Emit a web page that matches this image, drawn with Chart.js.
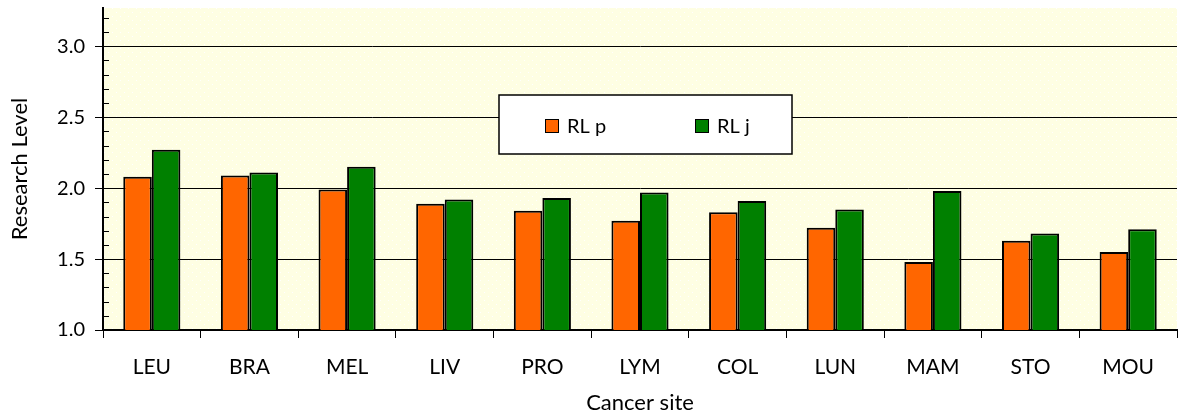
<!DOCTYPE html>
<html>
<head>
<meta charset="utf-8">
<script src="https://cdn.jsdelivr.net/npm/chart.js@4"></script>
<style>
  html, body { margin: 0; padding: 0; background: #fff; }
  #wrap { width: 1178px; height: 419px; }
</style>
</head>
<body>
<div id="wrap"><canvas id="rlChart" width="1178" height="419"></canvas></div>
<script>
// data
const sites = ["LEU", "BRA", "MEL", "LIV", "PRO", "LYM", "COL", "LUN", "MAM", "STO", "MOU"];
const rlP = [2.08, 2.09, 1.99, 1.89, 1.84, 1.77, 1.83, 1.72, 1.48, 1.63, 1.55];
const rlJ = [2.27, 2.11, 2.15, 1.92, 1.93, 1.97, 1.91, 1.85, 1.98, 1.68, 1.71];
const seriesNames = ["RL p", "RL j"];
const yTicks = [1.0, 1.5, 2.0, 2.5, 3.0];

const FONT = "Lato, 'Open Sans', sans-serif";

// dotted pale yellow fill like the original plot area
function makePattern(ctx) {
    const c = document.createElement("canvas");
    c.width = 8; c.height = 8;
    const p = c.getContext("2d");
    p.fillStyle = "#fefee3";
    p.fillRect(0, 0, 8, 8);
    p.fillStyle = "#ffffff";
    p.fillRect(0, 0, 1, 1);
    p.fillRect(4, 4, 1, 1);
    return ctx.createPattern(c, "repeat");
}

const plotBg = {
    id: "plotBg",
    beforeDraw(chart) {
        const { ctx, chartArea: a } = chart;
        ctx.save();
        ctx.fillStyle = makePattern(ctx);
        ctx.fillRect(a.left, a.top, a.right - a.left, a.bottom - a.top);
        ctx.restore();
    },
};

// small minor ticks on the inner side of the value axis
const minorTicks = {
    id: "minorTicks",
    afterDraw(chart) {
        const y = chart.scales.y;
        const ctx = chart.ctx;
        ctx.save();
        ctx.strokeStyle = "#000";
        ctx.lineWidth = 1;
        for (let i = 11; i <= 32; i++) {
            if (i % 5 === 0) continue;
            const py = Math.round(y.getPixelForValue(i / 10)) + 0.5;
            ctx.beginPath();
            ctx.moveTo(y.right, py);
            ctx.lineTo(y.right + 6, py);
            ctx.stroke();
        }
        ctx.restore();
    },
};

// boxed legend floating inside the plot
const boxLegend = {
    id: "boxLegend",
    afterDraw(chart) {
        const ctx = chart.ctx;
        const bx = 499, by = 95, bw = 293, bh = 59;
        ctx.save();
        ctx.fillStyle = "#fff";
        ctx.fillRect(bx, by, bw, bh);
        ctx.strokeStyle = "#000";
        ctx.lineWidth = 1.5;
        ctx.strokeRect(bx, by, bw, bh);
        ctx.font = "20px " + FONT;
        ctx.textBaseline = "middle";
        const xs = [545, 695];
        chart.data.datasets.forEach((ds, i) => {
            ctx.fillStyle = ds.backgroundColor;
            ctx.fillRect(xs[i], 119, 13, 13);
            ctx.lineWidth = 1;
            ctx.strokeRect(xs[i] + 0.5, 119.5, 13, 13);
            ctx.fillStyle = "#000";
            ctx.fillText(ds.label, xs[i] + 22, 127);
        });
        ctx.restore();
    },
};

new Chart(document.getElementById("rlChart"), {
    type: "bar",
    data: {
        labels: sites,
        datasets: [
            { label: seriesNames[0], data: rlP, backgroundColor: "#ff6600", borderColor: "#000", borderWidth: 2 },
            { label: seriesNames[1], data: rlJ, backgroundColor: "#008000", borderColor: "#000", borderWidth: 2 },
        ],
    },
    options: {
        responsive: false,
        animation: false,
        layout: { padding: { top: 8, right: 1, left: 0, bottom: 0 } },
        datasets: { bar: { categoryPercentage: 0.585, barPercentage: 1 } },
        plugins: {
            legend: { display: false },
            tooltip: { enabled: false },
        },
        scales: {
            x: {
                grid: { offset: true, drawOnChartArea: false, color: "#000", tickLength: 8, lineWidth: 1 },
                border: { color: "#000", width: 2 },
                ticks: { color: "#000", font: { family: FONT, size: 21 }, padding: 17 },
                title: { display: true, text: "Cancer site", color: "#000", font: { family: FONT, size: 22 }, padding: { top: 0, bottom: 3 } },
                afterFit: s => { s.height = 89; s.paddingLeft = 0; s.paddingRight = 0; },
            },
            y: {
                min: 1.0,
                max: 3.27,
                afterBuildTicks: s => { s.ticks = yTicks.map(v => ({ value: v })); },
                grid: { color: "#000", lineWidth: 1, tickLength: 8 },
                border: { color: "#000", width: 2 },
                ticks: { color: "#000", font: { family: FONT, size: 20 }, padding: 10, callback: v => Number(v).toFixed(1) },
                title: { display: true, text: "Research Level", color: "#000", font: { family: FONT, size: 22 }, padding: { top: 7, bottom: 4 } },
                afterFit: s => { s.width = 103; s.paddingTop = 0; s.paddingBottom = 0; },
            },
        },
    },
    plugins: [plotBg, minorTicks, boxLegend],
});
</script>
</body>
</html>
